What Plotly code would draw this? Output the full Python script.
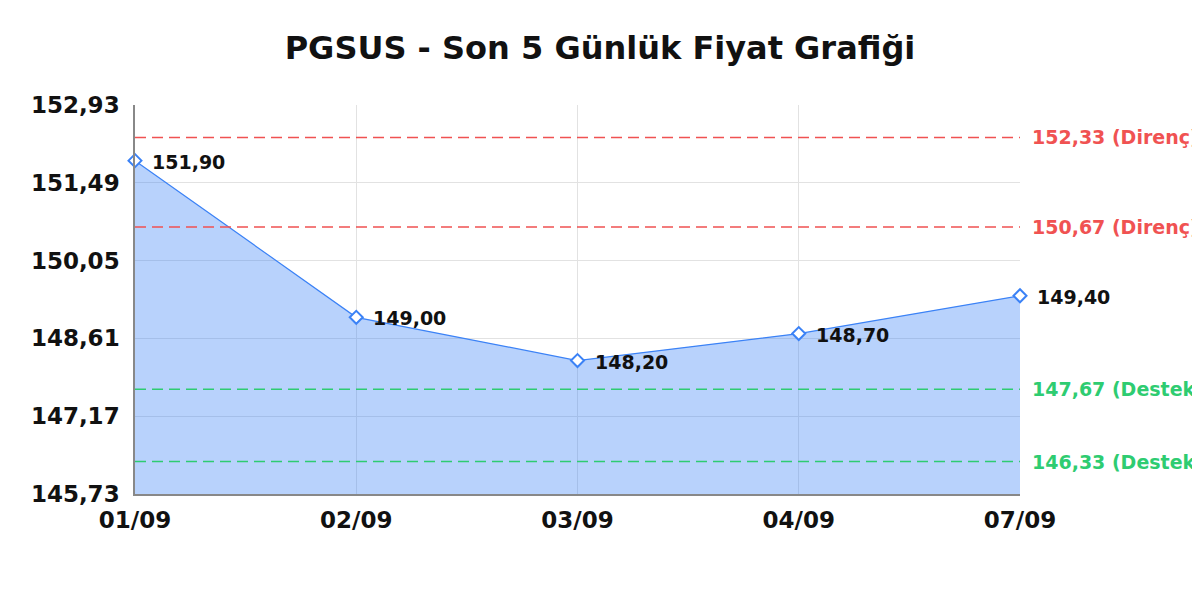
import plotly.graph_objects as go

dates = ["01/09", "02/09", "03/09", "04/09", "07/09"]
prices = [151.90, 149.00, 148.20, 148.70, 149.40]
price_labels = ["151,90", "149,00", "148,20", "148,70", "149,40"]
resistance = [152.33, 150.67]
resistance_labels = ["152,33 (Direnç)", "150,67 (Direnç)"]
support = [147.67, 146.33]
support_labels = ["147,67 (Destek)", "146,33 (Destek)"]
y_ticks = [145.73, 147.17, 148.61, 150.05, 151.49, 152.93]
y_tick_labels = ["145,73", "147,17", "148,61", "150,05", "151,49", "152,93"]

BLUE = "#3b82f6"
RED = "#f05252"
GREEN = "#2ecc71"
FONT = "DejaVu Sans"

fig = go.Figure()
fig.add_trace(go.Scatter(
    x=dates, y=prices, mode="lines+markers",
    line=dict(color=BLUE, width=1.2),
    fill="tozeroy", fillcolor="rgba(59,130,246,0.36)",
    marker=dict(symbol="diamond", size=10, color="white",
                line=dict(color=BLUE, width=2)),
    cliponaxis=False, showlegend=False, hoverinfo="skip",
))

for x, y, t in zip(dates, prices, price_labels):
    fig.add_annotation(x=x, y=y, text="<b>" + t + "</b>", showarrow=False, xanchor="left",
                       yanchor="middle", xshift=15, yshift=-1,
                       font=dict(family=FONT, size=19, color="#111"))

for v, t in zip(resistance, resistance_labels):
    fig.add_shape(type="line", xref="paper", x0=0, x1=1, y0=v, y1=v,
                  line=dict(color=RED, width=1.5, dash="11px,6px"))
    fig.add_annotation(xref="paper", x=1, y=v, text="<b>" + t + "</b>", showarrow=False,
                       xanchor="left", yanchor="middle", xshift=10,
                       font=dict(family=FONT, size=19, color=RED))
for v, t in zip(support, support_labels):
    fig.add_shape(type="line", xref="paper", x0=0, x1=1, y0=v, y1=v,
                  line=dict(color=GREEN, width=1.5, dash="11px,6px"))
    fig.add_annotation(xref="paper", x=1, y=v, text="<b>" + t + "</b>", showarrow=False,
                       xanchor="left", yanchor="middle", xshift=10,
                       font=dict(family=FONT, size=19, color=GREEN))

fig.update_layout(
    width=1200, height=600,
    paper_bgcolor="white", plot_bgcolor="white",
    margin=dict(l=127, r=188, t=97, b=114),
    title=dict(text="<b>PGSUS - Son 5 Günlük Fiyat Grafiği</b>", x=(600 - 8) / 1200, xanchor="center",
               y=1 - 40 / 600, yanchor="middle",
               font=dict(family=FONT, size=32, color="#111")),
    font=dict(family=FONT),
)
fig.update_xaxes(
    type="category", range=[0, 4], showgrid=True, gridcolor="#e2e2e2",
    showline=True, linecolor="#888", linewidth=1.5, ticks="",
    tickfont=dict(family=FONT, size=23, color="#111"), ticklabelstandoff=5,
    tickprefix="<b>", ticksuffix="</b>",
)
fig.update_yaxes(
    range=[145.73, 152.93], tickvals=y_ticks, ticktext=["<b>" + t + "</b>" for t in y_tick_labels],
    showgrid=True, gridcolor="#e2e2e2", zeroline=False,
    showline=True, linecolor="#888", linewidth=1.5, ticks="",
    tickfont=dict(family=FONT, size=23, color="#111"), ticklabelstandoff=9,
)

fig.write_html("out.html")
